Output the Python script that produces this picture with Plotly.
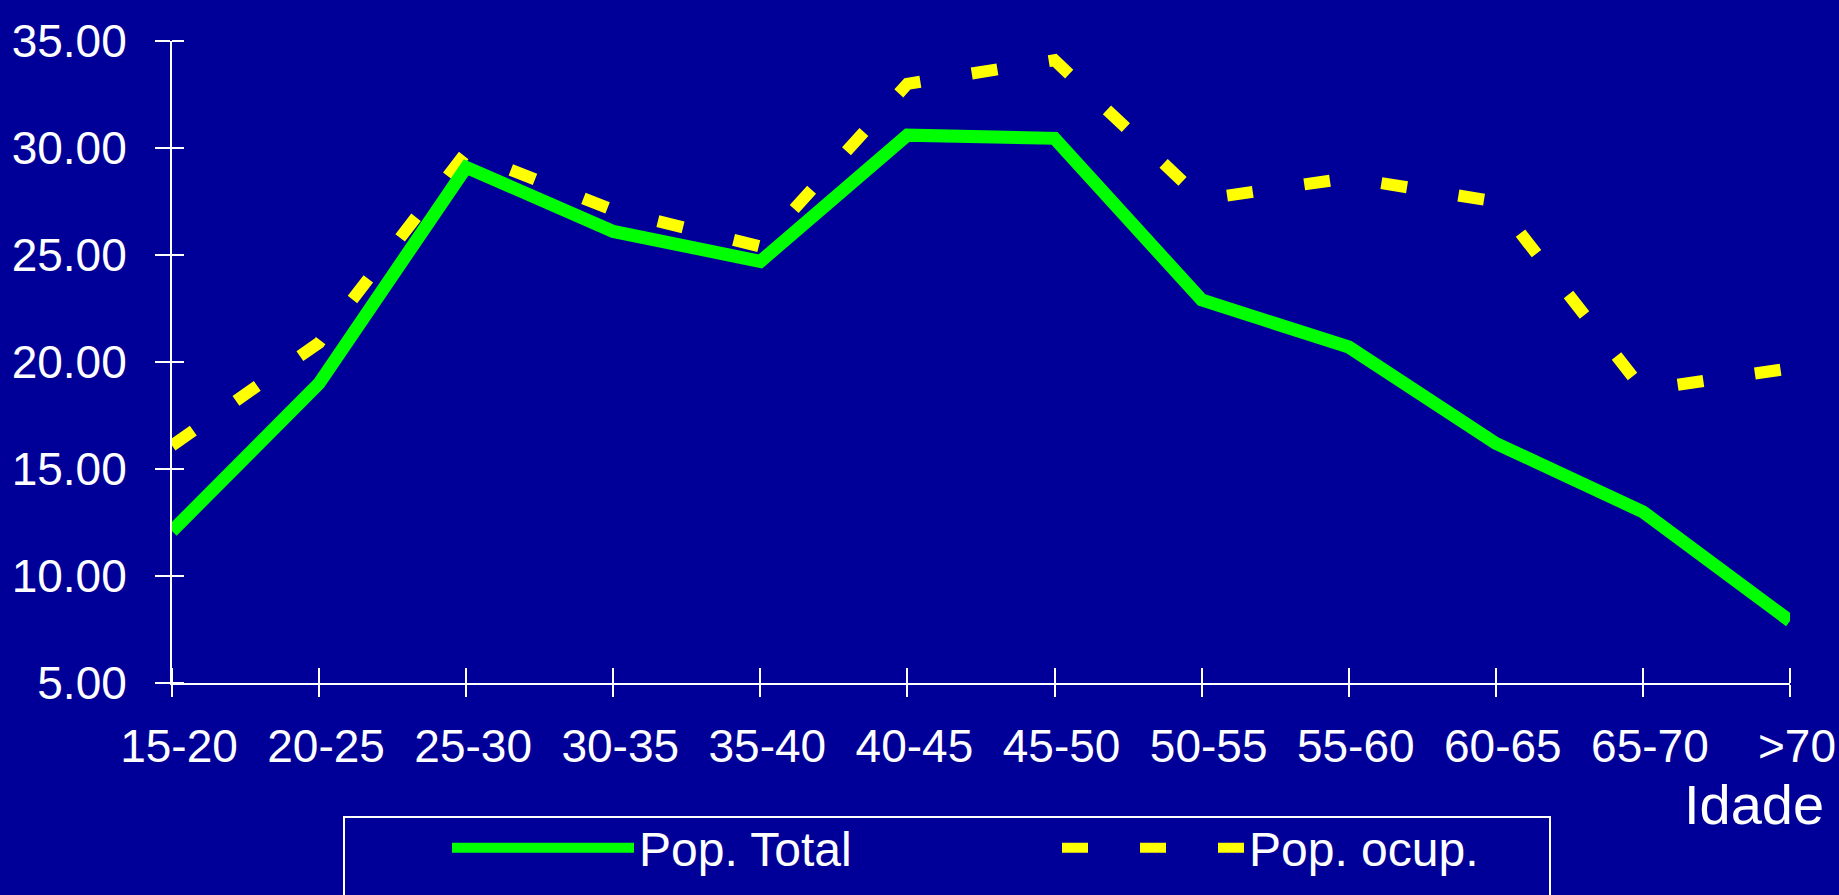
import plotly.graph_objects as go

categories = ["15-20", "20-25", "25-30", "30-35", "35-40", "40-45",
              "45-50", "50-55", "55-60", "60-65", "65-70", ">70"]
pop_total = [12.1, 19.0, 29.1, 26.1, 24.7, 30.6, 30.45, 22.9, 20.7, 16.2, 13.0, 7.9]
pop_ocup = [16.1, 20.9, 29.8, 27.1, 25.4, 33.0, 34.1, 27.6, 28.6, 27.5, 18.7, 19.7]
y_ticks = [5, 10, 15, 20, 25, 30, 35]

BG = "#000099"
FONT = "Arial, Liberation Sans, sans-serif"
W, H = 1839, 895
L, R, T, B = 172, 49, 41, 212
EPS = 1e-6  # inner half of each tick is drawn as a minor tick at the same spot

xs = list(range(len(categories)))

fig = go.Figure()
# yellow first so the green line is drawn on top; legend order reversed
fig.add_trace(go.Scatter(
    x=xs, y=pop_ocup, mode="lines", name="Pop. ocup.",
    line=dict(color="#FFFF00", width=12, dash="26px,52px"),
    hoverinfo="skip"))
fig.add_trace(go.Scatter(
    x=xs, y=pop_total, mode="lines", name="Pop. Total",
    line=dict(color="#00FF00", width=13),
    hoverinfo="skip"))

xr = [0, len(categories) - 1]
yr = [min(y_ticks), max(y_ticks)]

fig.update_layout(
    width=W, height=H,
    margin=dict(l=L, r=R, t=T, b=B, autoexpand=False),
    paper_bgcolor=BG, plot_bgcolor=BG,
    font=dict(family=FONT, color="white", size=46),
    xaxis=dict(
        range=xr, tickmode="array", tickvals=xs, ticktext=categories,
        showgrid=False, zeroline=False, showline=True, linecolor="white",
        linewidth=2, ticks="outside", ticklen=12, tickwidth=2,
        tickcolor="white", tickfont=dict(size=46, color="white"),
        ticklabelstandoff=10, ticklabelshift=7, automargin=False,
        minor=dict(tickmode="array", tickvals=[v + EPS for v in xs],
                   ticks="inside", ticklen=15, tickwidth=2,
                   tickcolor="white", showgrid=False)),
    yaxis=dict(
        range=yr, tickmode="array", tickvals=y_ticks,
        ticktext=[f"{v:.2f}" for v in y_ticks],
        showgrid=False, zeroline=False, showline=True, linecolor="white",
        linewidth=2, ticks="outside", ticklen=15, tickwidth=2,
        tickcolor="white", tickfont=dict(size=46, color="white"),
        ticklabelstandoff=19, automargin=False,
        minor=dict(tickmode="array", tickvals=[v - EPS for v in y_ticks],
                   ticks="inside", ticklen=12, tickwidth=2,
                   tickcolor="white", showgrid=False)),
    showlegend=True,
    legend=dict(
        orientation="h", xref="container", yref="container",
        x=447 / W, xanchor="left", y=1 - 810 / H, yanchor="top",
        bgcolor="rgba(0,0,0,0)", borderwidth=0,
        font=dict(family=FONT, size=48, color="white"),
        itemwidth=182, entrywidth=413, entrywidthmode="pixels",
        traceorder="reversed"),
    annotations=[dict(
        text="Idade", xref="paper", yref="paper",
        x=(1826 - L) / (W - L - R), xanchor="right",
        y=(683 - 805) / (683 - 41), yanchor="middle",
        showarrow=False, font=dict(family=FONT, size=56, color="white"))],
    shapes=[dict(
        type="rect", xref="paper", yref="paper",
        x0=(344 - L) / (W - L - R), x1=(1550 - L) / (W - L - R),
        y0=(683 - 817) / (683 - 41), y1=(683 - 905) / (683 - 41),
        line=dict(color="white", width=2), fillcolor="rgba(0,0,0,0)",
        layer="below")],
)

fig.write_html(
    "out.html",
    config={"displayModeBar": False},
    post_script="document.body.style.margin='0';"
                "document.body.style.background='#000099';")
